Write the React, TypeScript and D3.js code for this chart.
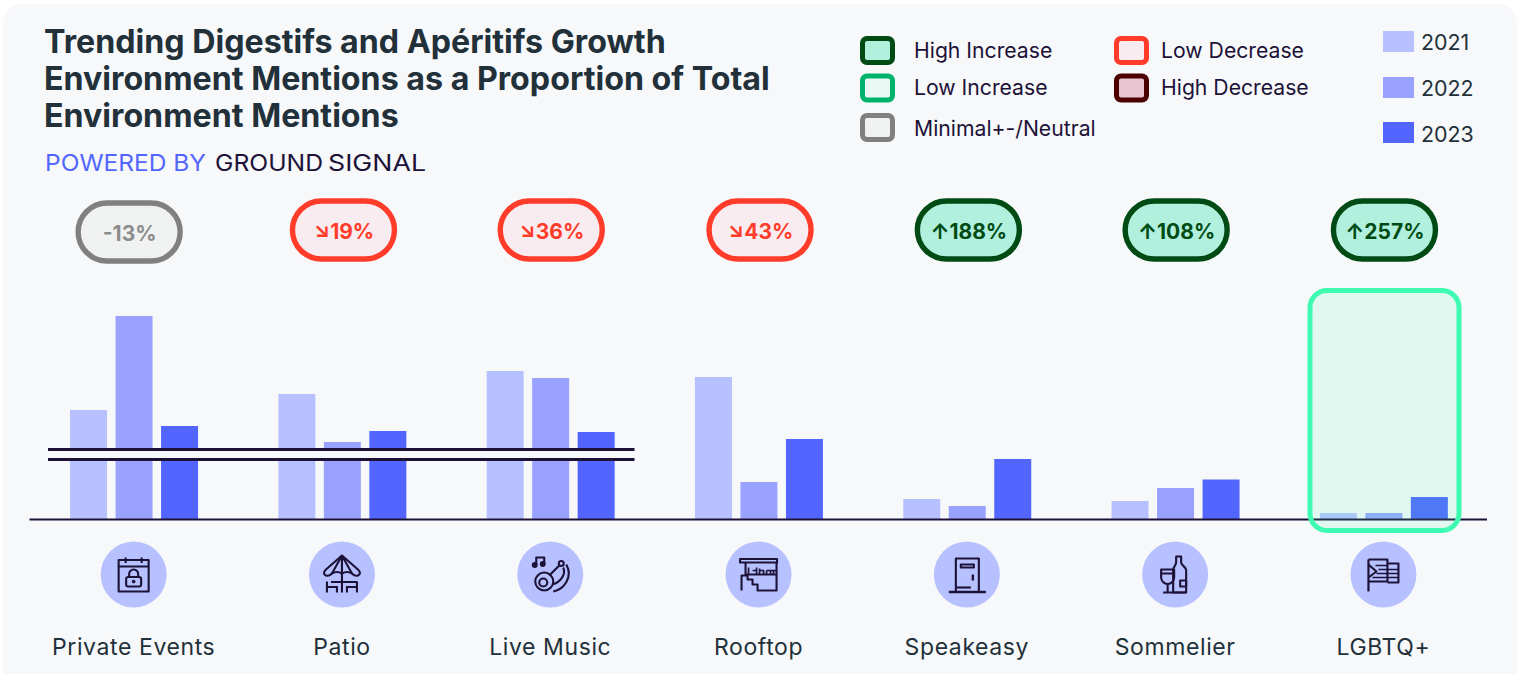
import React from "react";
import * as d3 from "d3";

const categories = ["Private Events", "Patio", "Live Music", "Rooftop", "Speakeasy", "Sommelier", "LGBTQ+"];
const years = ["2021", "2022", "2023"];
const values2021 = [109, 125, 148, 142, 20, 18, 6];
const values2022 = [203, 77, 141, 37, 13, 31, 6];
const values2023 = [93, 88, 87, 80, 60, 39.5, 22];
const changes = ["-13%", "↘19%", "↘36%", "↘43%", "↑188%", "↑108%", "↑257%"];
const changeKinds = ["neutral", "lowDec", "lowDec", "lowDec", "highInc", "highInc", "highInc"];
const titleLines = [
  "Trending Digestifs and Apéritifs Growth",
  "Environment Mentions as a Proportion of Total",
  "Environment Mentions",
];
const statusLegendA = [
  { label: "High Increase", kind: "highInc" },
  { label: "Low Increase", kind: "lowInc" },
  { label: "Minimal+-/Neutral", kind: "neutral" },
];
const statusLegendB = [
  { label: "Low Decrease", kind: "lowDec" },
  { label: "High Decrease", kind: "highDec" },
];

const FONT = "Inter, 'Noto Sans', sans-serif";
const INK = "#1c1238";
const SLATE = "#22303a";
const CARD = "#f7f8fa";
const yearColors = ["#b8c1ff", "#99a3ff", "#5266ff"];
const kinds: Record<string, { stroke: string; fill: string; text: string }> = {
  highInc: { stroke: "#004b14", fill: "#b2f0de", text: "#004b14" },
  lowInc: { stroke: "#00b26b", fill: "#e8faf3", text: "#00b26b" },
  neutral: { stroke: "#808080", fill: "#f0f2f2", text: "#8c8c8c" },
  lowDec: { stroke: "#ff3b2a", fill: "#f9ecf0", text: "#ff3b2a" },
  highDec: { stroke: "#4d0000", fill: "#e8c5d0", text: "#4d0000" },
};

const iconStroke = { fill: "none", stroke: INK, strokeWidth: 2.1, strokeLinejoin: "round" as const };

const icons: React.ReactNode[] = [
  <g {...iconStroke}>
    <rect x={-15} y={-14.5} width={30} height={31.5} />
    <path d="M-15-8H15M-8-17V-11.5M8-17V-11.5" />
    <rect x={-7.5} y={2.5} width={15} height={9.5} rx={2} />
    <path d="M-4.5 2.5V-0.5A4.5 4.5 0 0 1 4.5-0.5V2.5" />
    <circle cx={0} cy={7} r={0.8} />
  </g>,
  <g {...iconStroke}>
    <path d="M0-19 L-16-5 Q-20-1-16 1 Q-13 2-10-1 Q-5-4 0-1 Q5-4 10-1 Q13 2 16 1 Q20-1 16-5 Z" />
    <path d="M0-19 L-10-1M0-19 L10-1M0-19V18" />
    <path d="M-11 7.5H15M-15 7V18M-5 11.5V18M5 11.5V18M15 7V18M-15 12.5H-5M5 12.5H15" />
  </g>,
  <g {...iconStroke}>
    <circle cx={-6} cy={7} r={9} />
    <circle cx={-7} cy={8} r={4} />
    <path d="M-1 1L9-9" />
    <circle cx={11} cy={-11} r={2.5} />
    <path d="M13-7C16 0 10 8 2 10M16-10C23 2 14 15 3 17" />
    <path d="M-14-10V-17H-6V-11" />
    <circle cx={-15.5} cy={-9.5} r={1.9} fill={INK} />
    <circle cx={-7.5} cy={-10.5} r={1.9} fill={INK} />
  </g>,
  <g {...iconStroke}>
    <rect x={-18.5} y={-15.5} width={37} height={3.5} />
    <path d="M-13-12V0M18-12V16H-1V10H-6V5H-11V1H-17V16M-13 0H18" />
    <path d="M-10-7V0M-6-4H-2V0M-2-7V0M1-6V0M1-4H5V0M8-4H18M8-4V0M12-4V0M15-4V0" strokeWidth={1.7} />
  </g>,
  <g {...iconStroke}>
    <path d="M-11 17V-16H12V17" />
    <rect x={-6} y={-10} width={13} height={3} />
    <path d="M6 0V6" strokeWidth={2.4} />
    <path d="M-18 17.5H19" strokeWidth={2.3} />
    <path d="M-10 13H4" />
  </g>,
  <g {...iconStroke}>
    <path d="M-2 18V-4C-2-8 1-9 1-12V-18H6V-12C6-9 11-8 11-4V18Z" />
    <rect x={5} y={6} width={6} height={6} />
    <path d="M-14-5H-1V3A6.5 6.5 0 0 1-14 3Z" />
    <path d="M-14-1H-1M-7.5 9V18M-12 18H11" />
  </g>,
  <g {...iconStroke}>
    <path d="M-15-15V17" strokeWidth={2.2} />
    <path d="M-15-15H4V7H-15" />
    <path d="M4-11H15V8H4M-15-10L-7-3L-15 3" />
    <path d="M-8-9H4M-5-5H15M-7-1H15M-11 3H15" strokeWidth={1.5} />
  </g>,
];

export default function App() {
  const series = [values2021, values2022, values2023];
  const x = d3.scaleBand<string>().domain(categories).range([29.5, 1487.6]);
  const sub = d3.scaleBand<string>().domain(years).range([-63.6, 64.4]).paddingInner(0.187);
  const y = d3.scaleLinear().domain([0, 210]).range([519, 309]);
  const center = (c: string) => (x(c) as number) + x.bandwidth() / 2;
  const pillOffset = [-4.5, 1.5, 1, 1.5, 1.5, 1, 1];
  const pillY = [232, 230, 230, 230, 230, 230, 230];

  return (
    <svg width={1526} height={674} style={{ position: "absolute", left: 0, top: 0, display: "block" }} fontFamily={FONT}>
      <rect width={1526} height={674} fill="#ffffff" />
      <rect x={3} y={4} width={1514} height={690} rx={20} fill={CARD} />

      <g fontSize={32.2} fontWeight={700} fill={SLATE}>
        {titleLines.map((t, i) => (
          <text key={t} x={44} y={53 + i * 37}>{t}</text>
        ))}
      </g>
      <text x={45} y={171} fontSize={23} fill="#5266ff" textLength={161} lengthAdjust="spacingAndGlyphs">POWERED BY</text>
      <text x={215} y={171} fontSize={23} fill={INK} textLength={108} lengthAdjust="spacingAndGlyphs">GROUND</text>
      <text x={328} y={171} fontSize={23} fill={INK} textLength={98} lengthAdjust="spacingAndGlyphs">SIGNAL</text>

      {statusLegendA.map((d, i) => (
        <g key={d.label}>
          <rect x={862.5} y={[38.5, 76, 115.5][i]} width={30} height={24} rx={4.5}
            fill={kinds[d.kind].fill} stroke={kinds[d.kind].stroke} strokeWidth={5} />
          <text x={914} y={[58, 95, 136][i]} fontSize={21.2} fill={INK}>{d.label}</text>
        </g>
      ))}
      {statusLegendB.map((d, i) => (
        <g key={d.label}>
          <rect x={1116.5} y={[38.5, 76][i]} width={30} height={24} rx={4.5}
            fill={kinds[d.kind].fill} stroke={kinds[d.kind].stroke} strokeWidth={5} />
          <text x={1161} y={[58, 95][i]} fontSize={21.2} fill={INK}>{d.label}</text>
        </g>
      ))}
      {years.map((yr, i) => (
        <g key={yr}>
          <rect x={1383} y={[31, 77, 122][i]} width={31} height={21} fill={yearColors[i]} />
          <text x={1421} y={[50, 96, 142][i]} fontSize={21.4} fill={SLATE}>{yr}</text>
        </g>
      ))}

      {categories.map((c, i) => {
        const k = kinds[changeKinds[i]];
        const cx = center(c) + pillOffset[i];
        return (
          <g key={c}>
            <rect x={cx - 51} y={pillY[i] - 29} width={102} height={58} rx={29}
              fill={k.fill} stroke={k.stroke} strokeWidth={5.4} />
            <text x={cx + 0.5} y={pillY[i] + 8.5} textAnchor="middle" fontSize={21} fontWeight={700} fill={k.text}>{changes[i]}</text>
          </g>
        );
      })}

      {categories.map((c, i) => (
        <g key={c} transform={`translate(${center(c)},0)`}>
          {years.map((yr, j) => (
            <rect key={yr} x={sub(yr)} width={sub.bandwidth()} y={y(series[j][i])} height={y(0) - y(series[j][i])} fill={yearColors[j]} />
          ))}
        </g>
      ))}

      <rect x={48} y={450} width={586} height={9} fill={CARD} />
      <path d="M48 449.5H634.5M48 459.5H634.5" stroke={INK} strokeWidth={3} fill="none" />
      <line x1={29.5} x2={1487} y1={y(0) + 0.5} y2={y(0) + 0.5} stroke={INK} strokeWidth={2} />

      <rect x={1310} y={290.5} width={149} height={240} rx={17}
        fill="#3ffbb2" fillOpacity={0.12} stroke="#3ffbb2" strokeWidth={5} />

      {categories.map((c, i) => (
        <g key={c} transform={`translate(${center(c)},0)`}>
          <circle cy={574.5} r={33} fill="#b8c1ff" />
          <g transform="translate(0,574.5)">{icons[i]}</g>
          <text y={655} textAnchor="middle" fontSize={23} letterSpacing={0.6} fill={SLATE}>{c}</text>
        </g>
      ))}
    </svg>
  );
}
